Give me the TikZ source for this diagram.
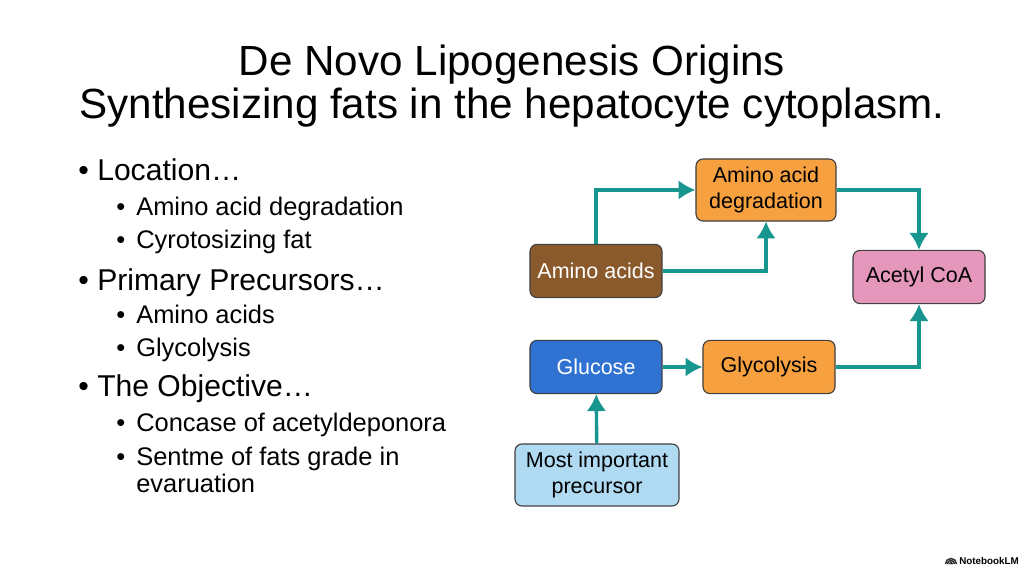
\documentclass[tikz,border=0pt]{standalone}
\usepackage{fontspec}
\setmainfont{Liberation Sans}
\usetikzlibrary{arrows.meta,calc}
\definecolor{flowteal}{HTML}{17958F}
\definecolor{degorange}{HTML}{F6A040}
\definecolor{aminobrown}{HTML}{8A5A2C}
\definecolor{acetylpink}{HTML}{E597BB}
\definecolor{glucoseblue}{HTML}{2F72D2}
\definecolor{precblue}{HTML}{AFDAF2}

\begin{document}
\begin{tikzpicture}[x=0.025cm,y=-0.025cm,
    box/.style={draw=black!75,line width=0.8pt,rounded corners=5pt,
        minimum width=3.3cm,minimum height=1.33cm,align=center,
        font=\fontsize{15.3}{18.6}\selectfont},
    flow/.style={draw=flowteal,line width=2.4pt,-{Latex[length=12pt,width=14pt]}},
    mainitem/.style={anchor=base west,inner sep=0pt,font=\fontsize{21.4}{25}\selectfont},
    subitem/.style={anchor=base west,inner sep=0pt,font=\fontsize{18.1}{21}\selectfont}]
    \useasboundingbox (0,0) rectangle (1024,572);

    % title
    \node[anchor=base,font=\fontsize{30}{35}\selectfont] (title) at (512,75) {De Novo Lipogenesis Origins};
    \node[anchor=base,font=\fontsize{30}{35}\selectfont] (subtitle) at (512,118) {Synthesizing fats in the hepatocyte cytoplasm.};

    % bullet list
    \foreach \y/\txt in {180/Location…, 290/Primary Precursors…, 396/The Objective…}
        \node[mainitem] (main\y) at (97,\y) {\txt};
    \foreach \y in {180,290,396}
        \node[mainitem] (mdot\y) at (78,\y) {•};
    \foreach \y/\txt in {215/Amino acid degradation, 248/Cyrotosizing fat,
            323/Amino acids, 356/Glycolysis,
            431/Concase of acetyldeponora, 465/Sentme of fats grade in}
        {
        \node[subitem] (sub\y) at (136,\y) {\txt};
        \node[subitem] (sdot\y) at (116,\y) {•};
        }
    \node[subitem] (sub492) at (136,492) {evaruation};

    % pathway boxes
    \node[box,fill=degorange,minimum width=3.5cm,minimum height=1.55cm] (deg) at (766,190) {Amino acid\\degradation};
    \node[box,fill=aminobrown,text=white] (amino) at (596,271) {Amino acids};
    \node[box,fill=acetylpink] (acetyl) at (919,277) {Acetyl CoA};
    \node[box,fill=glucoseblue,text=white] (glucose) at (596,367) {Glucose};
    \node[box,fill=degorange] (glyco) at (769,367) {Glycolysis};
    \node[box,fill=precblue,minimum width=4.1cm,minimum height=1.55cm] (prec) at (597,475) {Most important\\precursor};

    % connectors
    \draw[flow] (amino.north) |- (deg.west);
    \draw[flow] (amino.east) -| (deg.south);
    \draw[flow] (deg.east) -| (acetyl.north);
    \draw[flow] (glucose) -- (glyco);
    \draw[flow] (glyco.east) -| (acetyl.south);
    \draw[flow] (prec) -- (glucose);

    % logo
    \node[anchor=west,inner sep=0pt,font=\fontsize{7}{8}\selectfont\bfseries] (logo) at (959,561) {NotebookLM};
    \foreach \r in {1.5,3.5,5.5}
        \draw[line width=1.1pt,black!80] ($(logo.west)+(-8-\r,3)$) arc (180:360:\r);
\end{tikzpicture}
\end{document}
